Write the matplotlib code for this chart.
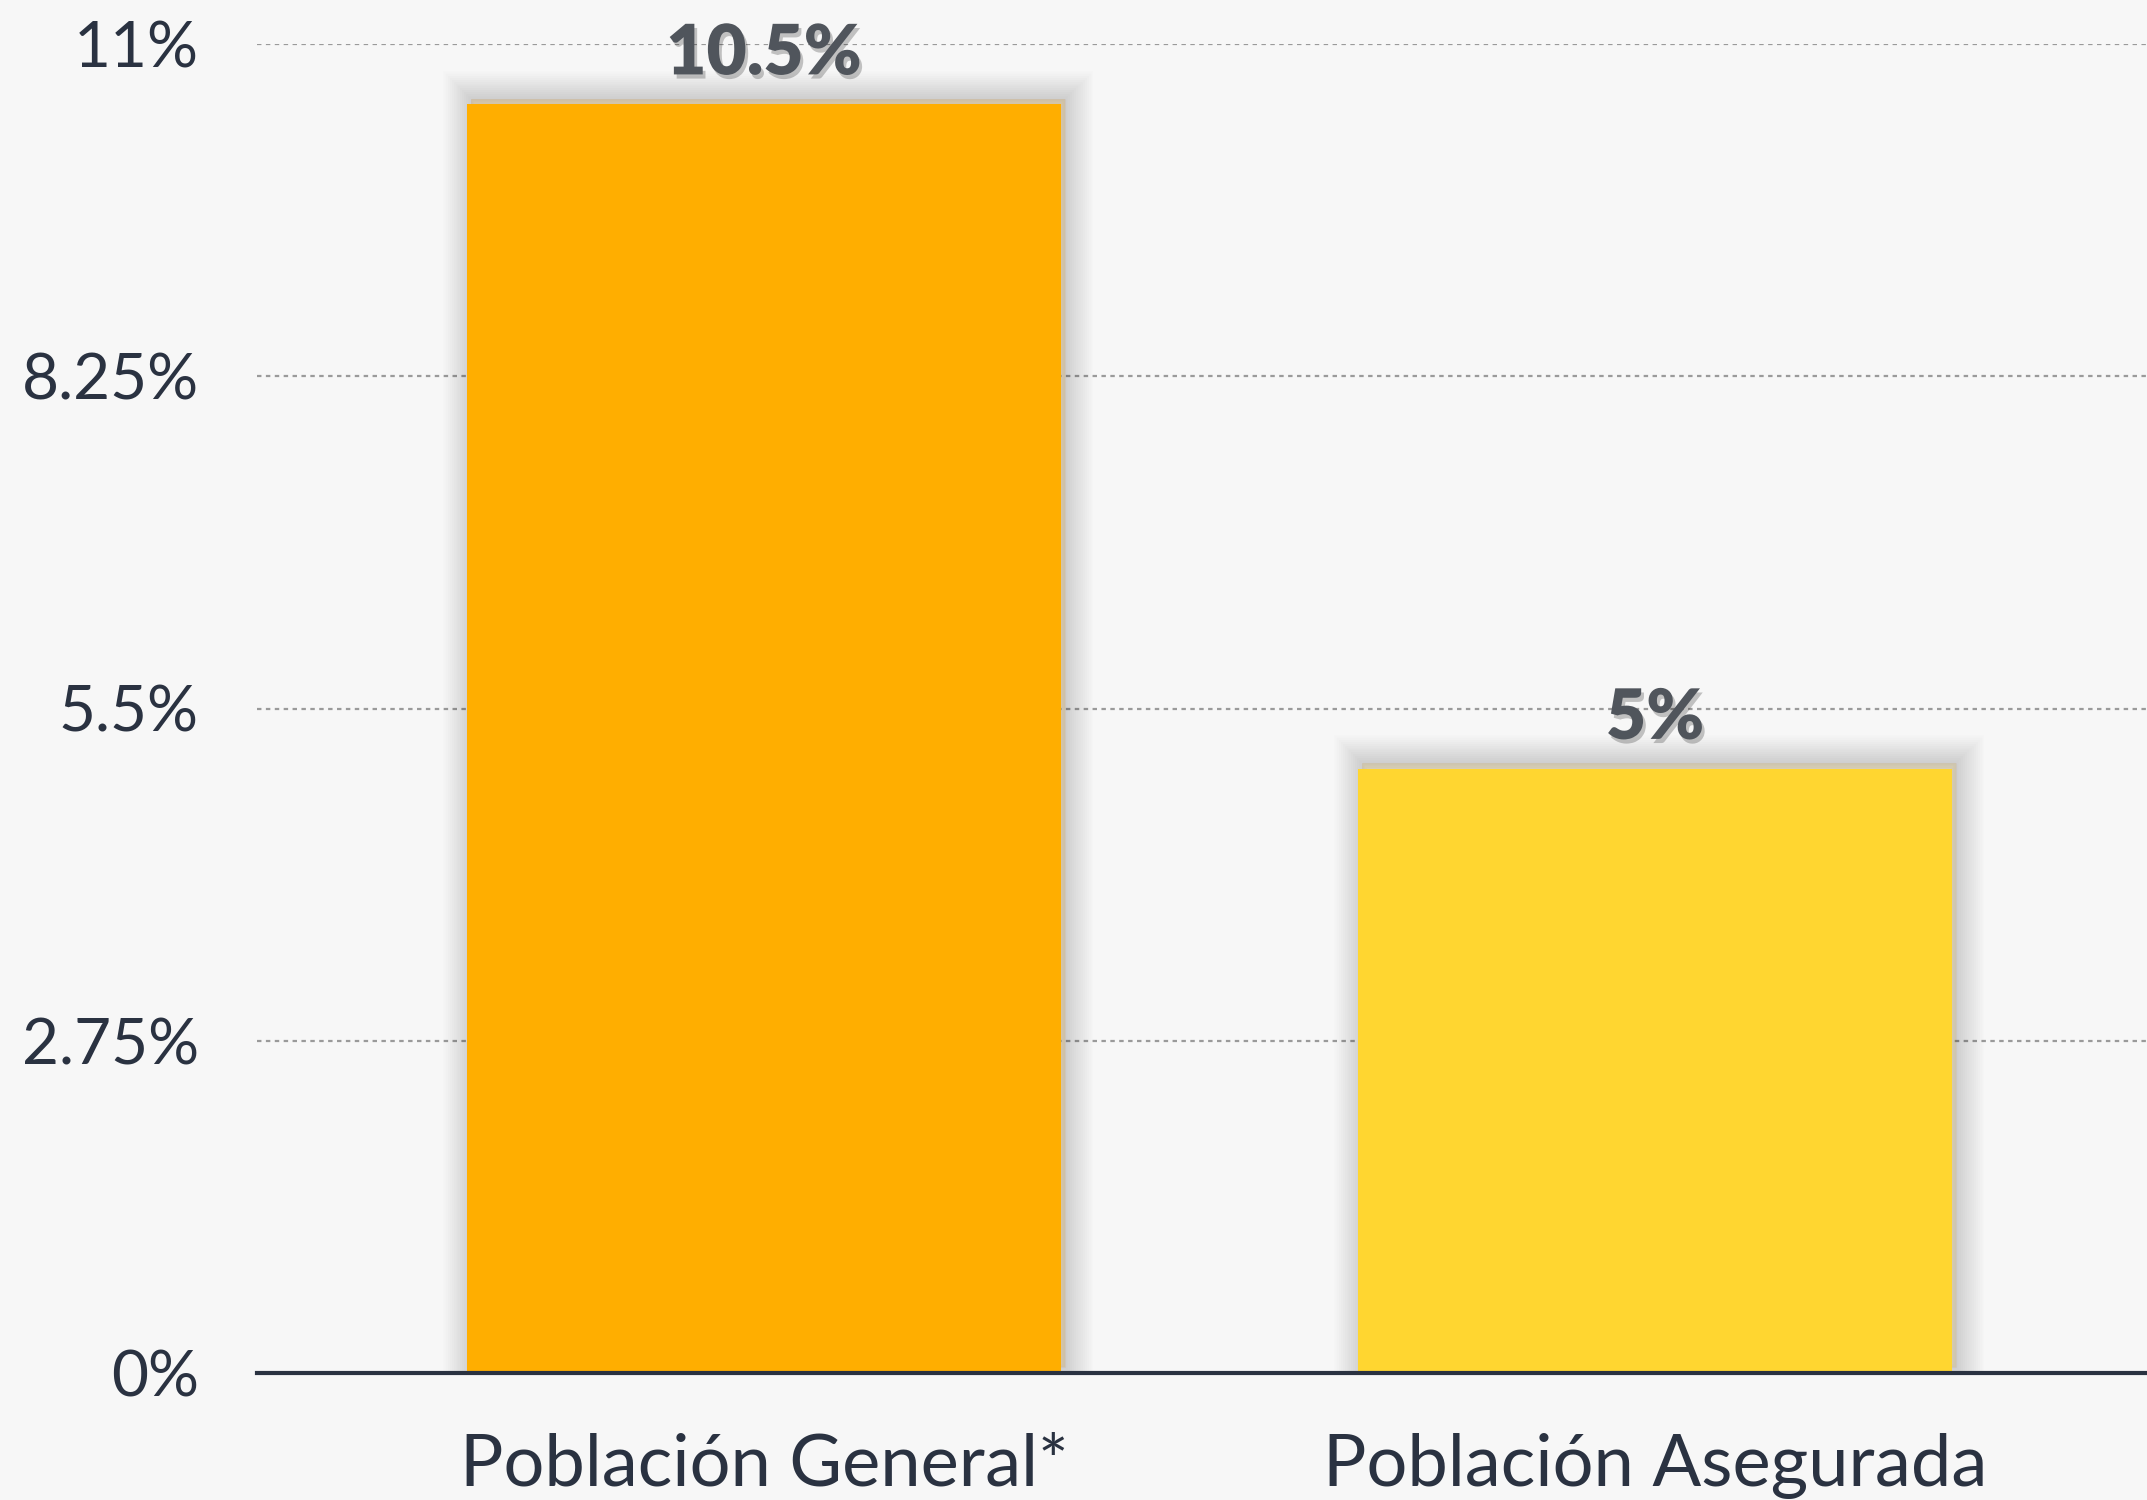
import matplotlib
matplotlib.use("Agg")
import matplotlib.pyplot as plt
import matplotlib.patheffects as pe

categories = ["Población General*", "Población Asegurada"]
values = [10.5, 5.0]
value_labels = ["10.5%", "5%"]
bar_colors = ["#FFAE00", "#FFD630"]
yticks = [0, 2.75, 5.5, 8.25, 11]
ytick_labels = ["0%", "2.75%", "5.5%", "8.25%", "11%"]

BG = "#F7F7F7"
TXT = "#2A3241"
VAL = "#50555C"
FONT = ["Lato", "DejaVu Sans"]

fig = plt.figure(figsize=(21.47, 15.0), dpi=100, facecolor=BG)
ax = fig.add_axes([257/2147, (1500-1373)/1500, 1 - 257/2147, (1373-44)/1500])
ax.set_facecolor(BG)

x = list(range(len(categories)))
bars = ax.bar(x, values, width=0.667, color=bar_colors, zorder=3)
shadow = []
for w in range(40, 0, -3):
    shadow.append(pe.Stroke(linewidth=w, foreground="k", alpha=0.012, offset=(3, 4)))
for b in bars:
    b.set_path_effects(shadow + [pe.Normal()])

ax.set_xlim(-0.569, 1.552)
ax.set_ylim(0, 11)
ax.set_yticks(yticks)
ax.set_yticklabels(ytick_labels)
ax.set_xticks(x)
ax.set_xticklabels(categories)
for lab in ax.get_yticklabels():
    lab.set_fontfamily(FONT)
    lab.set_fontweight("normal")
    lab.set_fontsize(46)
    lab.set_color(TXT)
for lab in ax.get_xticklabels():
    lab.set_fontfamily(FONT)
    lab.set_fontweight("normal")
    lab.set_fontsize(52)
    lab.set_color(TXT)
ax.tick_params(axis="both", length=0)
ax.tick_params(axis="y", pad=42)
ax.tick_params(axis="x", pad=43)

for s in ["top", "right", "left"]:
    ax.spines[s].set_visible(False)
ax.spines["bottom"].set_color(TXT)
ax.spines["bottom"].set_linewidth(3)
ax.spines["bottom"].set_zorder(5)

ax.yaxis.grid(True, linestyle=(0, (2, 2)), color="#9A9A9A", linewidth=1.6, zorder=0)
ax.set_axisbelow(True)

for xi, v, lab in zip(x, values, value_labels):
    ax.annotate(lab, (xi, v), xytext=(0, 18), textcoords="offset pixels",
                ha="center", va="bottom", fontsize=50, fontweight="heavy",
                family=FONT, color=VAL, zorder=6,
                path_effects=[pe.withSimplePatchShadow(offset=(2, -3), shadow_rgbFace="k", alpha=0.22)])

fig.savefig("out.png", dpi=100, facecolor=BG)
